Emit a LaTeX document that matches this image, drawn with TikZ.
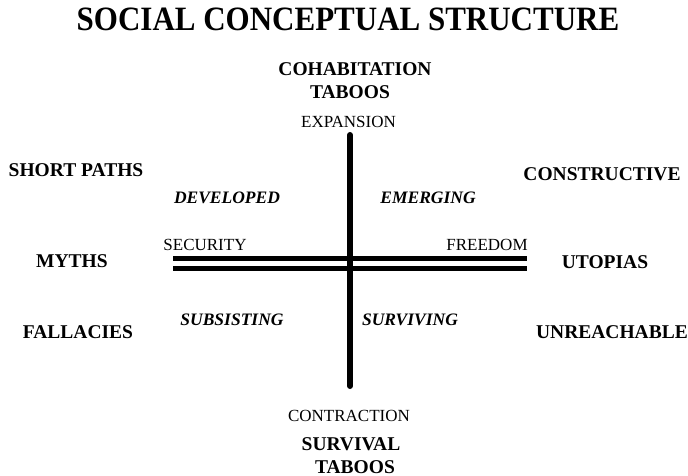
\documentclass[tikz,border=0pt]{standalone}
\usepackage{fontspec}
\setmainfont{Liberation Serif}

\begin{document}
\begin{tikzpicture}[x=1pt,y=-1pt]
    \tikzstyle{every node}+=[inner sep=0pt]
    \tikzstyle{corner}=[font=\fontsize{19.5}{20}\selectfont\bfseries]
    \tikzstyle{quad}=[font=\fontsize{17.5}{18}\selectfont\bfseries\itshape]
    \tikzstyle{pole}=[font=\fontsize{17}{18}\selectfont]
    \tikzstyle{axis}=[black, line width=5.5pt]
    \useasboundingbox (0,0) rectangle (688,476);
    \node [yscale=1.1] (title) at (348,19.5) {\fontsize{31}{32}\selectfont\bfseries SOCIAL CONCEPTUAL STRUCTURE};
    \node [corner] (cohab) at (355,69) {COHABITATION};
    \node [corner] (tabtop) at (350,92) {TABOOS};
    \node [pole] (expansion) at (348.5,122) {EXPANSION};
    \node [corner] (short) at (76,170) {SHORT PATHS};
    \node [corner] (constructive) at (602,174) {CONSTRUCTIVE};
    \node [quad] (developed) at (227,198) {DEVELOPED};
    \node [quad] (emerging) at (428,198) {EMERGING};
    \node [pole] (security) at (205,245) {SECURITY};
    \node [pole] (freedom) at (487,245) {FREEDOM};
    \node [corner] (myths) at (72,261) {MYTHS};
    \node [corner] (utopias) at (605,262) {UTOPIAS};
    \node [quad] (subsisting) at (232,320) {SUBSISTING};
    \node [quad] (surviving) at (410,320) {SURVIVING};
    \node [corner] (fallacies) at (78,332) {FALLACIES};
    \node [corner] (unreachable) at (612,332) {UNREACHABLE};
    \node [pole] (contraction) at (349,415.5) {CONTRACTION};
    \node [corner] (survival) at (351,444.5) {SURVIVAL};
    \node [corner] (tabbot) at (355,467.5) {TABOOS};
    \coordinate (secA) at (173,258.5);
    \coordinate (freA) at (527,258.5);
    \coordinate (secB) at (173,268.5);
    \coordinate (freB) at (527,268.5);
    \coordinate (exp) at (350,135);
    \coordinate (con) at (350,386);
    \draw [axis] (secA) -- (freA);
    \draw [axis] (secB) -- (freB);
    \draw [axis, line width=6pt, line cap=round] (exp) -- (con);
\end{tikzpicture}
\end{document}
